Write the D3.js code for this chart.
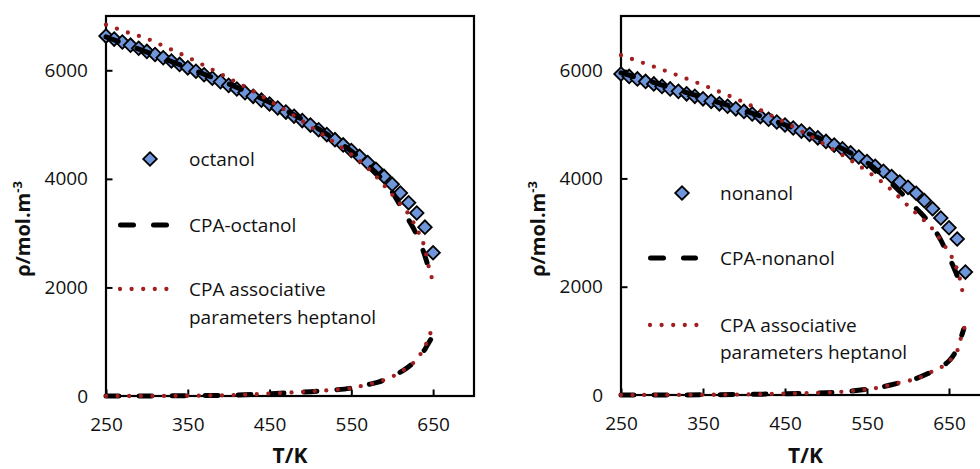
<!DOCTYPE html>
<html><head><meta charset="utf-8">
<script src="https://cdn.jsdelivr.net/npm/d3@7"></script>
<style>html,body{margin:0;padding:0;background:#fff;} svg{display:block;}</style>
</head><body>
<svg id="chart" width="980" height="469"></svg>
<script>
// ---------- data ----------
const xTicks = [250, 350, 450, 550, 650];
const yTicks = [0, 2000, 4000, 6000];
const xDomain = [250, 700];
const yDomain = [0, 7000];

// octanol experimental
const octT = [250,260,270,280,290,300,310,320,330,340,350,360,370,380,390,400,410,420,430,440,450,460,470,480,490,500,510,520,530,540,550,560,570,580,590,600,610,620,630,640,650];
const octRho = [6630,6575,6520,6463,6406,6348,6290,6230,6170,6108,6045,5982,5918,5853,5788,5722,5655,5588,5520,5450,5378,5305,5230,5153,5073,4990,4905,4815,4722,4625,4523,4415,4300,4178,4045,3900,3740,3560,3370,3110,2640];

// CPA-octanol
const cpaOctLiqT = [250,275,300,325,350,375,400,425,450,475,500,520,540,560,570,580,590,600,610,620,630,640,645,649];
const cpaOctLiqRho = [6615,6475,6335,6192,6045,5898,5750,5587,5410,5218,5010,4825,4620,4390,4260,4115,3950,3760,3500,3245,2965,2580,2330,2110];
const cpaOctVapT = [250,300,350,400,450,500,525,550,570,585,600,610,620,630,635,640,645,647];
const cpaOctVapRho = [0,1,5,15,42,80,108,145,210,265,370,440,540,670,757,860,990,1040];

// CPA associative parameters heptanol (octanol panel)
const hepOctLiqT = [250,275,300,325,350,375,400,425,450,475,500,525,550,570,580,590,600,610,620,630,640,645,650];
const hepOctLiqRho = [6840,6705,6583,6415,6240,6050,5855,5655,5440,5210,4965,4715,4450,4200,4050,3880,3710,3530,3350,3080,2710,2360,2100];
const hepOctVapT = [250,300,350,400,450,500,525,548,568,590,611,629,641,646,649.5];
const hepOctVapRho = [0,1,5,15,45,85,110,142,203,295,449,664,941,1126,1292];

// nonanol experimental
const nonT = [250,260,270,280,290,300,310,320,330,340,350,360,370,380,390,400,410,420,430,440,450,460,470,480,490,500,510,520,530,540,550,560,570,580,590,600,610,620,630,640,650,660,670];
const nonRho = [5930,5884,5838,5792,5746,5700,5654,5608,5562,5516,5470,5424,5378,5332,5285,5238,5190,5142,5094,5042,4988,4932,4874,4814,4750,4684,4616,4546,4474,4395,4312,4225,4132,4035,3935,3835,3725,3590,3440,3270,3090,2880,2270];

// CPA-nonanol
const cpaNonLiqT = [250,300,350,400,450,500,525,550,575,590,600,610,620,630,640,650,655,660,664,667];
const cpaNonLiqRho = [5950,5725,5492,5255,4990,4690,4510,4295,3975,3760,3605,3445,3290,3100,2860,2540,2385,2200,2030,1880];
const cpaNonVapT = [250,300,350,400,450,500,525,550,565,580,595,610,625,640,650,658,664,668];
const cpaNonVapRho = [0,1,3,10,24,43,65,105,138,190,245,305,400,520,630,800,1030,1220];

// CPA associative parameters heptanol (nonanol panel)
const hepNonLiqT = [250,275,300,325,350,375,400,425,450,475,500,525,550,575,600,610,620,630,640,650,655,660,664,667];
const hepNonLiqRho = [6275,6145,6010,5870,5725,5570,5405,5225,5035,4830,4615,4385,4135,3850,3495,3355,3220,3065,2860,2630,2500,2310,2100,1860];
const hepNonVapT = [250,300,350,400,450,500,521,550,564,578,592,605,619,633,645,655,662,665.5,669.5];
const hepNonVapRho = [0,1,3,10,25,45,61,106,135,185,235,278,352,463,556,709,894,1111,1265];

const legendLabels = {
  oct: ["octanol", "CPA-octanol", "CPA associative", "parameters heptanol"],
  non: ["nonanol", "CPA-nonanol", "CPA associative", "parameters heptanol"]
};
const yTitle = "ρ/mol.m";
const yTitleSup = "-3";
const xTitle = "T/K";

// ---------- drawing ----------
const FONT = "'Open Sans', sans-serif";
const BLUE = "#6f96db";
const RED = "#a11f1f";
const svg = d3.select("#chart");
const zip = (a, b) => a.map((v, i) => [v, b[i]]);

function drawPanel(p) {
  const g = svg.append("g");
  const x = d3.scaleLinear().domain(xDomain).range([p.left, p.right]);
  const y = d3.scaleLinear().domain(yDomain).range([p.bottom, p.top]);

  // frame
  g.append("rect").attr("x", p.left).attr("y", p.top)
    .attr("width", p.right - p.left).attr("height", p.bottom - p.top)
    .attr("fill", "none").attr("stroke", "#000").attr("stroke-width", 2.2);

  const xa = d3.axisBottom(x).tickValues(xTicks).tickSizeInner(-6.5).tickSizeOuter(0)
    .tickPadding(22).tickFormat(d3.format("d"));
  const ya = d3.axisLeft(y).tickValues(yTicks).tickSizeInner(-6.5).tickSizeOuter(0)
    .tickPadding(18).tickFormat(d3.format("d"));
  const gx = g.append("g").attr("transform", `translate(0,${p.bottom})`).call(xa);
  const gy = g.append("g").attr("transform", `translate(${p.left},0)`).call(ya);
  [gx, gy].forEach(a => {
    a.select(".domain").remove();
    a.selectAll(".tick line").attr("stroke", "#000").attr("stroke-width", 2);
    a.selectAll(".tick text").attr("font-family", FONT).attr("font-size", 19).attr("fill", "#111");
  });

  // titles
  g.append("text").attr("x", (p.left + p.right) / 2).attr("y", 463)
    .attr("text-anchor", "middle").attr("font-family", FONT).attr("font-weight", "bold")
    .attr("font-size", 21).attr("fill", "#111").text(xTitle);
  const yt = g.append("text").attr("transform", `translate(${p.yTitleX},229) rotate(-90)`)
    .attr("text-anchor", "middle").attr("font-family", FONT).attr("font-weight", "bold")
    .attr("font-size", 20).attr("fill", "#111");
  yt.append("tspan").text(yTitle);
  yt.append("tspan").attr("font-size", 13).attr("dy", -8).text(yTitleSup);

  const line = d3.line().x(d => x(d[0])).y(d => y(d[1])).curve(d3.curveMonotoneX);
  const diamond = d3.symbol(d3.symbolSquare, 92);

  // experimental diamonds
  g.append("g").selectAll("path").data(zip(p.expT, p.expRho)).join("path")
    .attr("d", diamond)
    .attr("transform", d => `translate(${x(d[0])},${y(d[1])}) rotate(45)`)
    .attr("fill", BLUE).attr("stroke", "#000").attr("stroke-width", 1.8);

  // CPA black dashed
  [zip(p.cpaLT, p.cpaLR), zip(p.cpaVT, p.cpaVR)].forEach(dat => {
    g.append("path").attr("d", line(dat)).attr("fill", "none").attr("stroke", "#000")
      .attr("stroke-width", 5).attr("stroke-linecap", "round").attr("stroke-dasharray", "13,20");
  });
  // heptanol red dotted
  [zip(p.hepLT, p.hepLR), zip(p.hepVT, p.hepVR)].forEach(dat => {
    g.append("path").attr("d", line(dat)).attr("fill", "none").attr("stroke", RED)
      .attr("stroke-width", 4.3).attr("stroke-linecap", "round").attr("stroke-dasharray", "0,11.6");
  });

  // legend
  const L = p.leg;
  g.append("path").attr("d", diamond)
    .attr("transform", `translate(${L.dx},${L.rows[0]}) rotate(45)`)
    .attr("fill", BLUE).attr("stroke", "#000").attr("stroke-width", 1.8);
  g.append("line").attr("x1", L.lx0 + 2.5).attr("x2", L.lx1 - 2.5).attr("y1", L.rows[1]).attr("y2", L.rows[1])
    .attr("stroke", "#000").attr("stroke-width", 5).attr("stroke-linecap", "round").attr("stroke-dasharray", "13,20");
  g.append("line").attr("x1", L.lx0 + 2).attr("x2", L.lx0 + 2 + 11.6 * 5).attr("y1", L.rows[2]).attr("y2", L.rows[2])
    .attr("stroke", RED).attr("stroke-width", 4.3).attr("stroke-linecap", "round").attr("stroke-dasharray", "0,11.6");
  p.labels.forEach((t, i) => {
    g.append("text").attr("x", L.tx).attr("y", L.rows[i]).attr("dy", "0.35em")
      .attr("font-family", FONT).attr("font-size", 19).attr("fill", "#111").text(t);
  });
}

drawPanel({
  left: 106, right: 474, top: 16, bottom: 396, yTitleX: 30,
  expT: octT, expRho: octRho,
  cpaLT: cpaOctLiqT, cpaLR: cpaOctLiqRho, cpaVT: cpaOctVapT, cpaVR: cpaOctVapRho,
  hepLT: hepOctLiqT, hepLR: hepOctLiqRho, hepVT: hepOctVapT, hepVR: hepOctVapRho,
  labels: legendLabels.oct,
  leg: { dx: 150, tx: 189, lx0: 118, lx1: 170, rows: [159, 225, 289, 317] }
});
drawPanel({
  left: 621, right: 990, top: 16, bottom: 395, yTitleX: 545,
  expT: nonT, expRho: nonRho,
  cpaLT: cpaNonLiqT, cpaLR: cpaNonLiqRho, cpaVT: cpaNonVapT, cpaVR: cpaNonVapRho,
  hepLT: hepNonLiqT, hepLR: hepNonLiqRho, hepVT: hepNonVapT, hepVR: hepNonVapRho,
  labels: legendLabels.non,
  leg: { dx: 682, tx: 720, lx0: 648, lx1: 698, rows: [193, 258, 325, 352] }
});
</script>
</body></html>
